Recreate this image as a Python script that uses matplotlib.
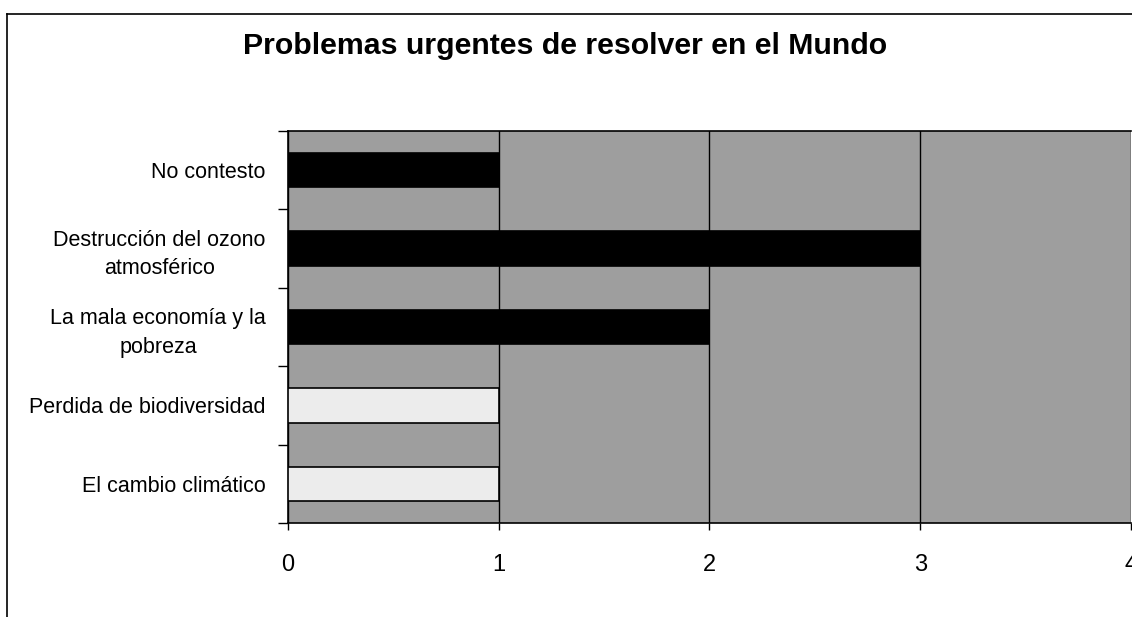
#!/usr/bin/env python3

import numpy as np
from matplotlib import pyplot as plt
from matplotlib.lines import Line2D

# data (top to bottom as shown)
categories = ['No contesto', 'Destrucción del ozono\natmosférico',
              'La mala economía y la\npobreza', 'Perdida de biodiversidad',
              'El cambio climático']
values = [1, 3, 2, 1, 1]
bar_colours = ['black', 'black', 'black', '#ececec', '#ececec']
x_ticks = [0, 1, 2, 3, 4]

TITLE = 'Problemas urgentes de resolver en el Mundo'

plt.rcParams['font.family'] = ['Liberation Sans', 'DejaVu Sans']

fig = plt.figure(figsize=(11.32, 6.17), dpi=100)
ax = fig.add_axes([0.2544, 0.1524, 0.7447, 0.6353])

y = np.arange(len(categories))
ax.barh(y, values, height=0.44, color=bar_colours, edgecolor='black',
        linewidth=1.2, zorder=3)

# plot area
ax.set_facecolor('#9e9e9e')
ax.set_xlim(0, 4)
ax.set_ylim(len(categories) - 0.5, -0.5)
for spine in ax.spines.values():
    spine.set_color('black')
    spine.set_linewidth(1.2)
ax.spines['right'].set_visible(False)

ax.set_xticks(x_ticks)
ax.set_xticklabels([str(t) for t in x_ticks])
ax.xaxis.grid(True, color='black', linewidth=1.0, zorder=1)
ax.set_axisbelow(True)
ax.tick_params(axis='x', direction='out', length=5, width=1, pad=17,
               labelsize=17)

# category labels at centres, ticks at the boundaries
ax.set_yticks(y)
ax.set_yticklabels(categories, multialignment='center', linespacing=1.45)
ax.set_yticks(np.arange(len(categories) + 1) - 0.5, minor=True)
ax.tick_params(axis='y', which='major', length=0, pad=16, labelsize=15.5)
ax.tick_params(axis='y', which='minor', direction='out', length=7, width=1)

fig.text(0.499, 0.925, TITLE, ha='center', va='center', fontsize=21.8,
         fontweight='bold')

# outer chart frame (cut off at right and bottom)
fig.add_artist(Line2D([7 / 1132, 7 / 1132], [0, 1 - 14 / 617],
                      color='black', linewidth=1.2))
fig.add_artist(Line2D([7 / 1132, 1], [1 - 14 / 617, 1 - 14 / 617],
                      color='black', linewidth=1.2))

fig.savefig('out.png', dpi=100)
